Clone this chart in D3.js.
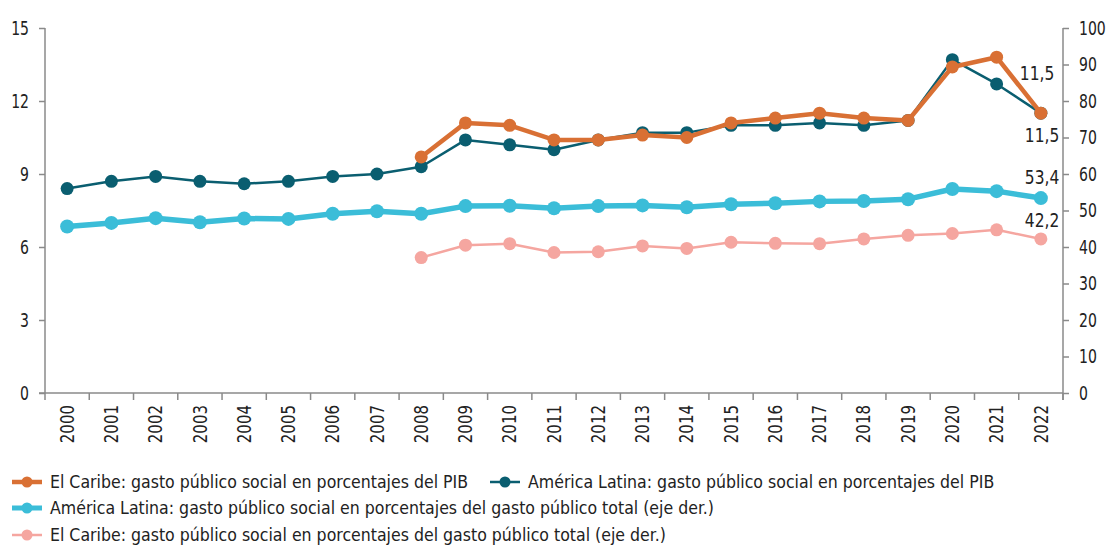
<!DOCTYPE html>
<html><head><meta charset="utf-8">
<script src="https://cdn.jsdelivr.net/npm/d3@7"></script>
<style>
html,body{margin:0;padding:0;background:#fff;}
text{font-family:"DejaVu Sans Condensed","DejaVu Sans",sans-serif;fill:#222;}
</style></head>
<body>
<svg id="chart" width="1110" height="546"></svg>
<script>
const years = ["2000","2001","2002","2003","2004","2005","2006","2007","2008","2009","2010","2011","2012","2013","2014","2015","2016","2017","2018","2019","2020","2021","2022"];
const latamPib = [8.4,8.7,8.9,8.7,8.6,8.7,8.9,9.0,9.3,10.4,10.2,10.0,10.4,10.7,10.7,11.0,11.0,11.1,11.0,11.2,13.7,12.7,11.5];
const caribePib = [null,null,null,null,null,null,null,null,9.7,11.1,11.0,10.4,10.4,10.6,10.5,11.1,11.3,11.5,11.3,11.2,13.4,13.8,11.5];
const latamGasto = [45.6,46.6,47.9,46.8,47.8,47.7,49.1,49.8,49.1,51.2,51.3,50.6,51.2,51.4,50.9,51.7,52.0,52.5,52.6,53.1,55.9,55.3,53.4];
const caribeGasto = [null,null,null,null,null,null,null,null,37.1,40.5,40.9,38.5,38.7,40.3,39.6,41.3,41.0,40.9,42.2,43.2,43.7,44.7,42.2];
const leftTicks = [0,3,6,9,12,15];
const rightTicks = [0,10,20,30,40,50,60,70,80,90,100];
const legendLabels = [
  "El Caribe: gasto público social en porcentajes del PIB",
  "América Latina: gasto público social en porcentajes del PIB",
  "América Latina: gasto público social en porcentajes del gasto público total (eje der.)",
  "El Caribe: gasto público social en porcentajes del gasto público total (eje der.)"
];

const svg = d3.select("#chart");
const L = 45, R = 1063, T = 28, B = 393;
const axisColor = "#8a8a8a";
const textColor = "#2a2a2a";

// horizontally condense text glyphs (narrow typeface look) via a transform
function compress(sel, f) {
  sel.each(function () {
    const t = d3.select(this);
    const xx = +t.attr("x") || 0, yy = +t.attr("y") || 0;
    const tr = t.attr("transform") || "";
    t.attr("transform", `${tr} translate(${xx},${yy}) scale(${f},1)`).attr("x", 0).attr("y", 0);
  });
}

const x = d3.scaleBand().domain(years).range([L, R]).padding(0);
const yL = d3.scaleLinear().domain([0, 15]).range([B, T]);
const yR = d3.scaleLinear().domain([0, 100]).range([B, T]);
const cx = d => x(d) + x.bandwidth() / 2;

// Left axis
const gL = svg.append("g").attr("transform", `translate(${L},0)`)
  .call(d3.axisLeft(yL).tickValues(leftTicks).tickSize(6).tickPadding(10).tickFormat(d3.format("d")));
// Right axis
const gR = svg.append("g").attr("transform", `translate(${R},0)`)
  .call(d3.axisRight(yR).tickValues(rightTicks).tickSize(6).tickPadding(10).tickFormat(d3.format("d")));
[gL, gR].forEach(g => {
  g.select(".domain").attr("stroke", axisColor).attr("stroke-width", 1.5).attr("d", g === gL ? `M0,${T}V${B}` : `M0,${T}V${B + 7}`);
  g.selectAll(".tick line").attr("stroke", axisColor).attr("stroke-width", 1.5);
  g.selectAll(".tick text").attr("font-size", 20).attr("fill", textColor).attr("font-family", null);
  compress(g.selectAll(".tick text"), 0.78);
});

// Bottom axis
const gB = svg.append("g").attr("transform", `translate(0,${B})`)
  .call(d3.axisBottom(x).tickSize(0).tickPadding(0));
gB.select(".domain").attr("stroke", axisColor).attr("stroke-width", 1.5).attr("d", `M${L - 6},0H${R}`);
gB.selectAll(".tick text")
  .attr("font-size", 19).attr("fill", textColor).attr("font-family", null)
  .attr("transform", "rotate(-90)")
  .attr("text-anchor", "end")
  .attr("x", -12).attr("y", 0).attr("dy", "0.35em");
compress(gB.selectAll(".tick text"), 0.88);
// boundary ticks
const bounds = years.map(d => x(d)).concat([R]);
gB.selectAll("line.bt").data(bounds).enter().append("line")
  .attr("class", "bt").attr("x1", d => d).attr("x2", d => d)
  .attr("y1", 0).attr("y2", 7).attr("stroke", axisColor).attr("stroke-width", 1.5);

// Series
const series = [
  {vals: latamGasto, y: yR, color: "#3bbdd8", width: 5.5, r: 7},
  {vals: caribeGasto, y: yR, color: "#f5a6a0", width: 2.5, r: 6.5},
  {vals: latamPib, y: yL, color: "#0a5e70", width: 2.5, r: 6.5},
  {vals: caribePib, y: yL, color: "#d97034", width: 4.5, r: 6.5}
];
series.forEach(s => {
  const pts = years.map((yr, i) => ({yr, v: s.vals[i]})).filter(p => p.v !== null);
  const line = d3.line().x(p => cx(p.yr)).y(p => s.y(p.v));
  svg.append("path").datum(pts).attr("d", line)
    .attr("fill", "none").attr("stroke", s.color).attr("stroke-width", s.width).attr("stroke-linejoin", "round");
  svg.append("g").selectAll("circle").data(pts).enter().append("circle")
    .attr("cx", p => cx(p.yr)).attr("cy", p => s.y(p.v)).attr("r", s.r).attr("fill", s.color);
});

// End labels
const last = years.length - 1;
const fmt = v => d3.format(".1f")(v).replace(".", ",");
const endLabels = [
  {v: caribePib[last], y: yL, dy: -33, dx: -21},
  {v: latamPib[last], y: yL, dy: 29, dx: -16},
  {v: latamGasto[last], y: yR, dy: -14, dx: -16},
  {v: caribeGasto[last], y: yR, dy: -12, dx: -16}
];
endLabels.forEach(l => {
  const t = svg.append("text").attr("x", cx(years[last]) + l.dx).attr("y", l.y(l.v) + l.dy)
    .attr("font-size", 20).attr("fill", textColor).text(fmt(l.v));
  compress(t, 0.86);
});

// Legend
const legColors = ["#d97034", "#0a5e70", "#3bbdd8", "#f5a6a0"];
const legWidths = [4.5, 2.5, 5, 2.5];
const legPos = [[12, 482], [490, 482], [12, 508], [12, 535]];
legendLabels.forEach((lab, i) => {
  const [lx, ly] = legPos[i];
  const g = svg.append("g").attr("transform", `translate(${lx},${ly})`);
  g.append("line").attr("x1", 0).attr("x2", 30).attr("y1", 0).attr("y2", 0)
    .attr("stroke", legColors[i]).attr("stroke-width", legWidths[i]);
  g.append("circle").attr("cx", 15).attr("cy", 0).attr("r", 5.5).attr("fill", legColors[i]);
  const t = g.append("text").attr("x", 38).attr("y", 0).attr("dy", "0.35em")
    .attr("font-size", 18).attr("fill", textColor).text(lab);
  compress(t, 0.975);
});
</script>
</body></html>
